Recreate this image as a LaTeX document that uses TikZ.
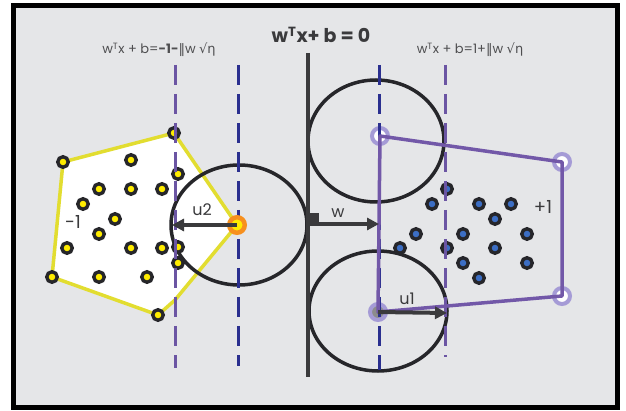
\documentclass[tikz,border=0pt]{standalone}
\usepackage{fontspec}
\setmainfont{Poppins}
\newfontfamily\symfont{DejaVu Sans}
\usetikzlibrary{arrows.meta, positioning, backgrounds}
\definecolor{panel}{RGB}{229, 230, 232}
\definecolor{ink}{RGB}{58, 58, 60}
\definecolor{ring}{RGB}{38, 38, 42}
\definecolor{hullyellow}{RGB}{226, 221, 48}
\definecolor{dotyellow}{RGB}{255, 236, 0}
\definecolor{dotblue}{RGB}{60, 110, 196}
\definecolor{hullpurple}{RGB}{114, 88, 168}
\definecolor{ringpurple}{RGB}{165, 155, 214}
\definecolor{navy}{RGB}{42, 47, 143}
\definecolor{dashpurple}{RGB}{107, 85, 163}
\definecolor{orangering}{RGB}{247, 144, 30}

\begin{document}
\begin{tikzpicture}[
    x=1pt, y=-1pt,
    ydot/.style={
        circle, draw=ring, fill=dotyellow, line width=3.4pt,
        inner sep=0pt, minimum size=10.5pt
    },
    bdot/.style={ydot, fill=dotblue},
    sv/.style={
        circle, draw=ringpurple, fill=#1, line width=4pt,
        inner sep=0pt, minimum size=16pt
    },
    ball/.style={draw=ring, line width=3.5pt},
    margin/.style={draw=#1, line width=3pt, dash pattern=on 20pt off 9pt},
    vec/.style={-{Triangle[length=12pt, width=12pt]}, draw=ink, line width=4pt},
    lbl/.style={font=\fontsize{16}{16}\selectfont, text=ink},
    cls/.style={font=\fontsize{18}{18}\selectfont, text=ink},
    eq/.style={font=\fontsize{13}{13}\selectfont, text=ink!90}
]
\useasboundingbox (0,0) rectangle (626,411);

% Uncertainty balls
\draw[ball] (239,225) ellipse [x radius=68, y radius=60];
\draw[ball] (376,141) ellipse [x radius=68, y radius=61];
\draw[ball] (378,311) ellipse [x radius=69, y radius=60];

% Class -1 points (yellow)
\node[ydot] (ya) at (174,133) {};
\node[ydot] (yb) at (63,162) {};
\node[ydot] (yc) at (52,277) {};
\node[ydot] (yd) at (158,315) {};
\foreach \p [count=\i] in {(131,160), (178,174), (99,189), (131,189), (162,189),
    (83,204), (115,219), (99,234), (67,248), (131,248), (162,248), (178,247),
    (178,263), (99,277), (147,277)} {
    \node[ydot] (y\i) at \p {};
}

% Class +1 points (blue)
\foreach \p [count=\i] in {(447,189), (432,204), (479,204), (511,204), (495,219),
    (416,234), (463,234), (527,234), (400,248), (447,248), (495,248), (463,263),
    (527,263), (479,278)} {
    \node[bdot] (b\i) at \p {};
}

% Support vectors of class +1
\node[sv=white]      (sva) at (380,136) {};
\node[sv=white]      (svb) at (562,162) {};
\node[sv=white]      (svc) at (562,296) {};
\node[sv=gray!90]    (svd) at (378,312) {};

% Margin lines
\draw[margin=dashpurple] (175,65) -- (175,368);
\draw[margin=navy]       (238,65) -- (238,366);
\draw[margin=navy]       (379,65) -- (379,370);
\draw[margin=dashpurple] (445,65) -- (445,357);

% Support vector of class -1
\node[circle, draw=orangering, fill=dotyellow, line width=4.5pt,
      inner sep=0pt, minimum size=15.5pt] (x2) at (237,225) {};
\coordinate (kink) at (175,300);

% Convex hull of class +1
\draw[hullpurple, line width=3.5pt, line join=round]
    (sva.center) -- (svb.center) -- (svc.center) -- (svd.center) -- cycle;

% Separating hyperplane
\draw[ink, line width=3.5pt] (308,53) -- (308,377);
\coordinate (foot) at (308,224);
\coordinate (wend) at (379,224);
\coordinate (u2end) at (172,225);
\coordinate (u1end) at (447,313);
\fill[ink] (308,213) rectangle (319,225);

% Vectors
\draw[vec] (foot) -- (wend);
\draw[vec] (x2.center) -- (u2end);
\draw[vec] (svd.center) -- (u1end);

% Labels
\node[font=\bfseries\fontsize{19}{19}\selectfont, text=ink] (title) at (321,35)
    {w\textsuperscript{T}x+ b = 0};
\node[eq] (neg) at (159,50)
    {w\textsuperscript{T}x + b=\textbf{-1-}{\symfont ‖}w {\symfont √η}};
\node[eq] (pos) at (470,50)
    {w\textsuperscript{T}x + b=1+{\symfont ‖}w {\symfont √η}};
\node[cls] (cneg) at (73,222) {-1};
\node[cls] (cpos) at (543,207) {+1};
\node[lbl] (u2) at (202,210) {u2};
\node[lbl] (w)  at (338,213) {w};
\node[lbl] (u1) at (407,299) {u1};

\begin{scope}[on background layer]
    % Panel
    \draw[line width=5pt, fill=panel] (13.5,5.5) rectangle (617.5,407.5);
    % Convex hull of class -1
    \filldraw[fill=white, draw=hullyellow, line width=3.5pt, line join=round]
        (ya.center) -- (x2.center) -- (kink) -- (yd.center) -- (yc.center)
        -- (yb.center) -- cycle;
\end{scope}
\end{tikzpicture}
\end{document}
